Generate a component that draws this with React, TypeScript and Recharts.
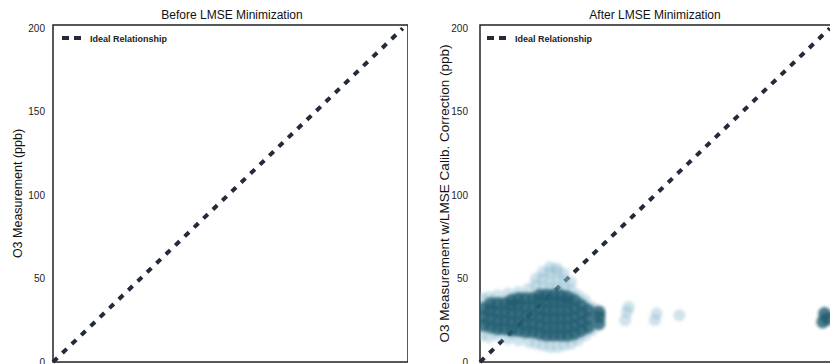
import {
  ReferenceArea,
  ReferenceLine,
  Scatter,
  ScatterChart,
  XAxis,
  YAxis,
} from "recharts";

const FONT = '"Liberation Sans", Arial, sans-serif';

const Y_TICKS = [0, 50, 100, 150, 200];
const X_TICKS = [0, 50, 100, 150, 200];
const X_MAX = 203;
const Y_MAX = 202;

// ideal 1:1 line endpoints
const IDEAL = [
  { x: 0, y: 0 },
  { x: 200, y: 200 },
];

// corrected measurements, dense core of the cloud
const CORE = [
  { x: 2, y: 22 }, { x: 2, y: 27 }, { x: 2, y: 32 },
  { x: 6, y: 21 }, { x: 6, y: 26 }, { x: 6, y: 31 }, { x: 6, y: 35 },
  { x: 10, y: 20 }, { x: 10, y: 25 }, { x: 10, y: 30 }, { x: 10, y: 35 },
  { x: 14, y: 20 }, { x: 14, y: 25 }, { x: 14, y: 30 }, { x: 14, y: 35 },
  { x: 18, y: 19 }, { x: 18, y: 24 }, { x: 18, y: 29 }, { x: 18, y: 34 }, { x: 18, y: 37 },
  { x: 22, y: 19 }, { x: 22, y: 24 }, { x: 22, y: 29 }, { x: 22, y: 34 }, { x: 22, y: 38 },
  { x: 26, y: 18 }, { x: 26, y: 23 }, { x: 26, y: 28 }, { x: 26, y: 33 }, { x: 26, y: 38 },
  { x: 30, y: 18 }, { x: 30, y: 23 }, { x: 30, y: 28 }, { x: 30, y: 33 }, { x: 30, y: 38 },
  { x: 34, y: 17 }, { x: 34, y: 22 }, { x: 34, y: 27 }, { x: 34, y: 32 }, { x: 34, y: 37 }, { x: 34, y: 40 },
  { x: 38, y: 16 }, { x: 38, y: 21 }, { x: 38, y: 26 }, { x: 38, y: 31 }, { x: 38, y: 36 }, { x: 38, y: 40 },
  { x: 42, y: 16 }, { x: 42, y: 21 }, { x: 42, y: 26 }, { x: 42, y: 31 }, { x: 42, y: 36 }, { x: 42, y: 40 },
  { x: 46, y: 16 }, { x: 46, y: 21 }, { x: 46, y: 26 }, { x: 46, y: 31 }, { x: 46, y: 36 }, { x: 46, y: 40 },
  { x: 50, y: 16 }, { x: 50, y: 21 }, { x: 50, y: 26 }, { x: 50, y: 31 }, { x: 50, y: 36 }, { x: 50, y: 39 },
  { x: 54, y: 17 }, { x: 54, y: 22 }, { x: 54, y: 27 }, { x: 54, y: 32 }, { x: 54, y: 37 },
  { x: 58, y: 19 }, { x: 58, y: 24 }, { x: 58, y: 29 }, { x: 58, y: 34 },
  { x: 62, y: 21 }, { x: 62, y: 26 }, { x: 62, y: 31 },
  { x: 68, y: 23 }, { x: 68, y: 27 }, { x: 68, y: 30 },
  { x: 196, y: 24 }, { x: 197, y: 29 }, { x: 199, y: 26 },
];

// sparse outer points around the core
const HALO = [
  { x: 1, y: 16 }, { x: 1, y: 38 },
  { x: 5, y: 15 }, { x: 5, y: 39 },
  { x: 10, y: 16 }, { x: 10, y: 40 },
  { x: 16, y: 14 }, { x: 16, y: 41 },
  { x: 22, y: 13 }, { x: 22, y: 42 },
  { x: 28, y: 12 }, { x: 28, y: 44 },
  { x: 32, y: 11 }, { x: 32, y: 46 }, { x: 32, y: 50 },
  { x: 36, y: 10 }, { x: 36, y: 45 }, { x: 36, y: 50 }, { x: 36, y: 54 },
  { x: 40, y: 9 }, { x: 40, y: 44 }, { x: 40, y: 49 }, { x: 40, y: 54 }, { x: 40, y: 57 },
  { x: 44, y: 9 }, { x: 44, y: 44 }, { x: 44, y: 49 }, { x: 44, y: 54 }, { x: 44, y: 56 },
  { x: 48, y: 10 }, { x: 48, y: 44 }, { x: 48, y: 49 }, { x: 48, y: 53 },
  { x: 52, y: 11 }, { x: 52, y: 43 }, { x: 52, y: 48 },
  { x: 56, y: 13 }, { x: 56, y: 40 },
  { x: 60, y: 16 }, { x: 60, y: 37 },
  { x: 64, y: 19 }, { x: 64, y: 33 },
  { x: 83, y: 25 }, { x: 84, y: 30 }, { x: 85, y: 33 },
  { x: 100, y: 25 }, { x: 101, y: 29 },
  { x: 114, y: 28 },
];

const tickStyle = { fontSize: 10, fill: "#222", fontFamily: FONT };

function Dot(props: any) {
  const { cx, cy, r, fill, opacity } = props;
  if (cx == null || cy == null) return null;
  return (
    <g>
      <defs>
        <filter id="soft" x="-50%" y="-50%" width="200%" height="200%">
          <feGaussianBlur stdDeviation={1.8} />
        </filter>
      </defs>
      <circle cx={cx} cy={cy} r={r} fill={fill} fillOpacity={opacity} filter="url(#soft)" />
    </g>
  );
}

function IdealLegend({ left }: { left: number }) {
  return (
    <svg
      width={130}
      height={14}
      style={{ position: "absolute", left, top: 31, overflow: "visible" }}
    >
      <line x1={0} y1={7} x2={20} y2={7} stroke="#232a3a" strokeWidth={4} strokeDasharray="7 5" />
      <text x={28} y={10.5} fontSize={9} fontWeight={700} fontFamily={FONT} fill="#222">
        Ideal Relationship
      </text>
    </svg>
  );
}

function Title({ text, center }: { text: string; center: number }) {
  return (
    <div
      style={{
        position: "absolute",
        left: center - 120,
        width: 240,
        top: 8,
        textAlign: "center",
        fontFamily: FONT,
        fontSize: 12,
        color: "#111",
        lineHeight: "14px",
      }}
    >
      {text}
    </div>
  );
}

function Panel({
  width,
  yAxisWidth,
  yLabel,
  labelOffset,
  labelSize,
  tickMargin,
  showCloud,
}: {
  width: number;
  yAxisWidth: number;
  yLabel: string;
  labelOffset: number;
  labelSize: number;
  tickMargin: number;
  showCloud: boolean;
}) {
  return (
    <ScatterChart
      width={width}
      height={400}
      margin={{ top: 25, right: 0, left: 0, bottom: 8 }}
    >
      <XAxis
        type="number"
        dataKey="x"
        domain={[0, X_MAX]}
        ticks={X_TICKS}
        allowDataOverflow
        axisLine={false}
        tickLine={false}
        height={30}
        tick={false}
      />
      <YAxis
        type="number"
        dataKey="y"
        domain={[0, Y_MAX]}
        ticks={Y_TICKS}
        allowDataOverflow
        width={yAxisWidth}
        axisLine={false}
        tickLine={false}
        tickMargin={tickMargin}
        tick={tickStyle}
        label={{
          value: yLabel,
          angle: -90,
          position: "insideLeft",
          offset: labelOffset,
          style: {
            textAnchor: "middle",
            fontSize: labelSize,
            fill: "#111",
            fontFamily: FONT,
          },
        }}
      />
      {showCloud && (
        <Scatter
          data={HALO}
          isAnimationActive={false}
          shape={(p: any) => <Dot {...p} r={6} fill="#86b9cc" opacity={0.4} />}
        />
      )}
      {showCloud && (
        <Scatter
          data={CORE}
          isAnimationActive={false}
          shape={(p: any) => <Dot {...p} r={6.5} fill="#215d70" opacity={0.8} />}
        />
      )}
      <ReferenceLine
        segment={IDEAL}
        stroke="#232a3a"
        strokeWidth={4}
        strokeDasharray="6 7"
        ifOverflow="visible"
      />
      <ReferenceArea
        x1={0}
        x2={X_MAX}
        y1={0}
        y2={Y_MAX}
        fill="none"
        stroke="#222"
        strokeWidth={1.5}
        ifOverflow="visible"
      />
    </ScatterChart>
  );
}

export default function App() {
  return (
    <div
      style={{
        position: "absolute",
        left: 0,
        top: 0,
        width: 830,
        height: 364,
        overflow: "hidden",
        background: "#fff",
      }}
    >
      <div style={{ position: "absolute", left: 0, top: 0 }}>
        <Panel
          width={408}
          yAxisWidth={53}
          yLabel="O3 Measurement (ppb)"
          labelOffset={18}
          labelSize={12.5}
          tickMargin={2}
          showCloud={false}
        />
      </div>
      <div style={{ position: "absolute", left: 415, top: 0 }}>
        <Panel
          width={420}
          yAxisWidth={65}
          yLabel="O3 Measurement w/LMSE Calib. Correction (ppb)"
          labelOffset={29}
          labelSize={13.5}
          tickMargin={6}
          showCloud
        />
      </div>
      <Title text="Before LMSE Minimization" center={232} />
      <Title text="After LMSE Minimization" center={655} />
      <IdealLegend left={62} />
      <IdealLegend left={487} />
    </div>
  );
}
